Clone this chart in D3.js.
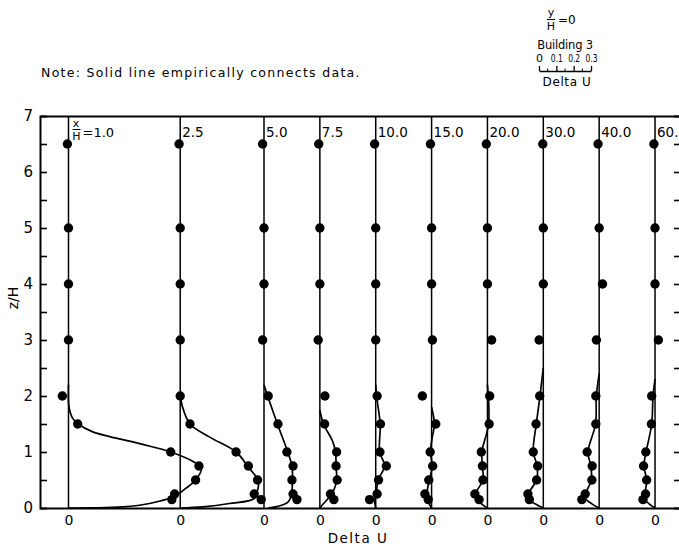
<!DOCTYPE html>
<html>
<head>
<meta charset="utf-8">
<script src="https://cdn.jsdelivr.net/npm/d3@7"></script>
<style>
  html, body { margin: 0; padding: 0; background: #fff; }
  svg { display: block; }
  text { font-family: "DejaVu Sans", sans-serif; fill: #000; }
</style>
</head>
<body>
<svg id="chart" width="679" height="548"></svg>
<script>
// Stations downstream of the building (x/H)
const stations = ["1.0", "2.5", "5.0", "7.5", "10.0", "15.0", "20.0", "30.0", "40.0", "60."];

// Heights of the measured points (z/H)
const zLevels = [6.5, 5, 4, 3, 2, 1.5, 1.0, 0.75, 0.5, 0.25, 0.15];

// Measured Delta U at each height, one list per station
const du_1_0  = [-0.004, 0, 0, 0, -0.022, 0.033, 0.366, 0.467, 0.455, 0.38, 0.37];
const du_2_5  = [-0.004, 0, 0, 0, 0, 0.035, 0.20, 0.244, 0.277, 0.265, 0.29];
const du_5_0  = [-0.005, 0, 0, -0.005, 0.015, 0.05, 0.082, 0.104, 0.10, 0.104, 0.118];
const du_7_5  = [-0.004, 0, 0, -0.006, 0.018, 0.017, 0.06, 0.058, 0.062, 0.038, 0.05];
const du_10_0 = [-0.004, 0, 0, 0, 0.005, 0.017, 0.015, 0.038, 0.01, 0.005, -0.022];
const du_15_0 = [-0.004, 0, 0, 0.003, -0.033, 0.015, -0.005, 0.004, -0.01, -0.024, -0.012];
const du_20_0 = [-0.004, 0, 0, 0.015, 0.008, 0.006, -0.022, -0.018, -0.016, -0.045, -0.03];
const du_30_0 = [-0.002, 0, 0, -0.015, -0.013, -0.026, -0.036, -0.02, -0.024, -0.055, -0.05];
const du_40_0 = [-0.004, 0, 0.012, -0.01, -0.012, -0.012, -0.043, -0.025, -0.026, -0.05, -0.062];
const du_60_0 = [-0.004, 0, 0, 0.012, -0.012, -0.013, -0.033, -0.041, -0.03, -0.034, -0.043];

// Hand-drawn lines through the data: [z/H, Delta U]
const fit_1_0  = [[2.2, 0], [1.8, 0.002], [1.6, 0.015], [1.5, 0.035], [1.36, 0.087], [1.15, 0.255], [1.0, 0.366], [0.83, 0.446], [0.71, 0.476], [0.5, 0.455], [0.35, 0.42], [0.2, 0.375], [0.08, 0.29], [0.02, 0.195], [0.003, 0.075], [0, 0]];
const fit_2_5  = [[2.05, 0], [1.81, 0.008], [1.5, 0.035], [1.27, 0.104], [1.0, 0.2], [0.73, 0.244], [0.48, 0.28], [0.32, 0.277], [0.17, 0.265], [0.08, 0.176], [0.02, 0.08], [0, 0]];
const fit_5_0  = [[2.2, 0], [2.0, 0.013], [1.5, 0.048], [1.0, 0.085], [0.75, 0.1], [0.5, 0.102], [0.3, 0.1], [0.18, 0.095], [0.1, 0.085], [0.03, 0.05], [0, 0.015]];
const fit_7_5  = [[1.75, 0], [1.5, 0.013], [1.2, 0.045], [1.0, 0.056], [0.75, 0.058], [0.5, 0.06], [0.32, 0.05], [0.2, 0.035], [0.05, 0.008], [0, 0]];
const fit_10_0 = [[2.2, 0], [2.0, 0.003], [1.5, 0.016], [1.0, 0.014], [0.75, 0.032], [0.5, 0.008], [0.25, 0.002], [0.15, -0.004], [0, 0]];
const fit_15_0 = [[1.8, 0], [1.5, 0.01], [1.25, 0.002], [1.0, -0.004], [0.75, 0.002], [0.5, -0.008], [0.28, -0.016], [0.12, -0.012], [0, 0]];
const fit_20_0 = [[2.2, 0], [1.5, 0.004], [1.0, -0.02], [0.75, -0.018], [0.5, -0.016], [0.3, -0.038], [0.18, -0.04], [0.07, -0.02], [0, 0]];
const fit_30_0 = [[2.5, 0], [2.0, -0.012], [1.5, -0.025], [1.0, -0.036], [0.75, -0.022], [0.5, -0.024], [0.28, -0.05], [0.15, -0.05], [0.05, -0.02], [0, 0]];
const fit_40_0 = [[2.4, 0], [2.0, -0.01], [1.5, -0.013], [1.0, -0.04], [0.75, -0.03], [0.5, -0.028], [0.3, -0.045], [0.18, -0.05], [0.07, -0.025], [0, 0]];
const fit_60_0 = [[2.3, 0], [2.0, -0.007], [1.5, -0.012], [1.0, -0.032], [0.75, -0.04], [0.5, -0.03], [0.3, -0.035], [0.17, -0.04], [0.07, -0.02], [0, 0]];

// Axis tick values
const zTicks = [0, 1, 2, 3, 4, 5, 6, 7];
const zHalfTicks = [0.5, 1.5, 2.5, 3.5, 4.5, 5.5, 6.5];
const scaleTicks = [0, 0.1, 0.2, 0.3];
const scaleMinorTicks = [0.05, 0.15, 0.25];

const measured = [du_1_0, du_2_5, du_5_0, du_7_5, du_10_0, du_15_0, du_20_0, du_30_0, du_40_0, du_60_0];
const fitted = [fit_1_0, fit_2_5, fit_5_0, fit_7_5, fit_10_0, fit_15_0, fit_20_0, fit_30_0, fit_40_0, fit_60_0];

// Zero line of each profile, in Delta U units from the first one
const panelOffset = [0, 0.4, 0.7, 0.9, 1.1, 1.3, 1.5, 1.7, 1.9, 2.1];

const svg = d3.select("#chart");

const x = d3.scaleLinear().domain([-0.102, 2.193]).range([40, 681]);
const y = d3.scaleLinear().domain([0, 7]).range([508, 116]);

const ink = "#000";

// Frame: left axis with inward ticks
const leftAxis = svg.append("g").attr("transform", `translate(${x(-0.102)},0)`)
  .call(d3.axisLeft(y)
    .tickValues(zTicks.concat(zHalfTicks))
    .tickSize(-7)
    .tickPadding(7)
    .tickFormat(d => Number.isInteger(d) ? d3.format("d")(d) : ""));
leftAxis.select(".domain").attr("stroke-width", 2);
leftAxis.selectAll(".tick line").attr("stroke-width", 1.6)
  .filter(d => d === 0 || d === 7).remove();
leftAxis.selectAll(".tick text").style("font-size", "15px").style("font-family", "DejaVu Sans");

// right frame with inward ticks, no labels
const rightAxis = svg.append("g").attr("transform", `translate(${x(2.193)},0)`)
  .call(d3.axisRight(y)
    .tickValues(zTicks.concat(zHalfTicks).filter(d => d > 0 && d < 7))
    .tickSize(-7)
    .tickFormat(""));
rightAxis.select(".domain").attr("stroke-width", 2);
rightAxis.selectAll(".tick line").attr("stroke-width", 1.6);

// top frame
const topAxis = svg.append("g").attr("transform", `translate(0,${y(7)})`)
  .call(d3.axisTop(x).tickValues([]).tickSizeOuter(0));
topAxis.select(".domain").attr("stroke-width", 2);

// bottom frame with a "0" under each profile
const bottomAxis = svg.append("g").attr("transform", `translate(0,${y(0)})`)
  .call(d3.axisBottom(x).tickValues(panelOffset).tickSize(0).tickSizeOuter(0)
    .tickPadding(7).tickFormat(() => "0"));
bottomAxis.select(".domain").attr("stroke-width", 2.2);
bottomAxis.selectAll(".tick text").style("font-size", "14px").style("font-family", "DejaVu Sans");

// axis titles
svg.append("text")
  .attr("transform", `translate(18,${y(3.75)}) rotate(-90)`)
  .attr("text-anchor", "middle")
  .style("font-size", "14px")
  .text("z/H");

svg.append("text")
  .attr("x", 358).attr("y", 543)
  .attr("text-anchor", "middle")
  .style("font-size", "13.5px")
  .style("letter-spacing", "1.5px")
  .text("Delta U");

// profiles
const line = d3.line()
  .x(d => d.px)
  .y(d => y(d.z))
  .curve(d3.curveCatmullRom.alpha(0.5));

stations.forEach((st, i) => {
  const off = panelOffset[i];
  const g = svg.append("g");

  // zero line of the profile
  g.append("line")
    .attr("x1", x(off)).attr("x2", x(off))
    .attr("y1", y(0)).attr("y2", y(7))
    .attr("stroke", ink).attr("stroke-width", 1.5);

  // line through the data
  g.append("path")
    .datum(fitted[i].map(([z, u]) => ({ z, px: x(off + u) })))
    .attr("d", line)
    .attr("fill", "none")
    .attr("stroke", ink)
    .attr("stroke-width", 1.7);

  // data points
  g.selectAll("circle")
    .data(measured[i].map((u, k) => ({ z: zLevels[k], u })))
    .join("circle")
    .attr("cx", d => x(off + d.u))
    .attr("cy", d => y(d.z))
    .attr("r", 4.7)
    .attr("fill", ink);

  // station label
  if (i === 0) {
    const lx = x(off) + 4;
    g.append("text").attr("x", lx + 3.5).attr("y", 127).attr("text-anchor", "middle")
      .style("font-size", "11px").text("x");
    g.append("line").attr("x1", lx).attr("x2", lx + 8).attr("y1", 129.5).attr("y2", 129.5)
      .attr("stroke", ink).attr("stroke-width", 1);
    g.append("text").attr("x", lx + 4).attr("y", 140).attr("text-anchor", "middle")
      .style("font-size", "11px").text("H");
    g.append("text").attr("x", lx + 10).attr("y", 137)
      .style("font-size", "13px").text("=" + st);
  } else {
    g.append("text").attr("x", x(off) + 2).attr("y", 137)
      .style("font-size", "13.5px").text(st);
  }
});

// note
svg.append("text")
  .attr("x", 41).attr("y", 77)
  .style("font-size", "12.5px")
  .style("letter-spacing", "1.3px")
  .text("Note: Solid line empirically connects data.");

// key: station position and Delta U scale bar
const key = svg.append("g");
const kx = d3.scaleLinear().domain([0, 0.3]).range([539, 591]);
key.append("text").attr("x", 551).attr("y", 16).attr("text-anchor", "middle")
  .style("font-size", "11px").text("y");
key.append("line").attr("x1", 547).attr("x2", 555).attr("y1", 19.5).attr("y2", 19.5)
  .attr("stroke", ink).attr("stroke-width", 1);
key.append("text").attr("x", 551).attr("y", 30).attr("text-anchor", "middle")
  .style("font-size", "11px").text("H");
key.append("text").attr("x", 558).attr("y", 24)
  .style("font-size", "12px").text("=0");
key.append("text").attr("x", 565).attr("y", 49).attr("text-anchor", "middle")
  .style("font-size", "11.5px").style("letter-spacing", "-0.2px").text("Building 3");

const scaleAxis = key.append("g").attr("transform", "translate(0,71)")
  .call(d3.axisBottom(kx).tickValues(scaleTicks).tickSize(-5).tickSizeOuter(0)
    .tickFormat(d => d === 0 ? "0" : d3.format(".1f")(d)));
scaleAxis.select(".domain").attr("stroke-width", 1.5);
scaleAxis.selectAll(".tick line").attr("stroke-width", 1.3);
scaleAxis.selectAll(".tick text").attr("y", -9).attr("dy", 0)
  .style("font-size", "11px")
  .style("font-family", "DejaVu Sans")
  .filter(d => d > 0)
  .attr("textLength", 12)
  .attr("lengthAdjust", "spacingAndGlyphs");
key.append("g").attr("transform", "translate(0,71)")
  .selectAll("line").data(scaleMinorTicks).join("line")
  .attr("x1", d => kx(d)).attr("x2", d => kx(d))
  .attr("y1", 0).attr("y2", -2.5)
  .attr("stroke", ink).attr("stroke-width", 1);
key.append("text").attr("x", 567).attr("y", 86).attr("text-anchor", "middle")
  .style("font-size", "12px").style("letter-spacing", "0.6px").text("Delta U");
</script>
</body>
</html>
